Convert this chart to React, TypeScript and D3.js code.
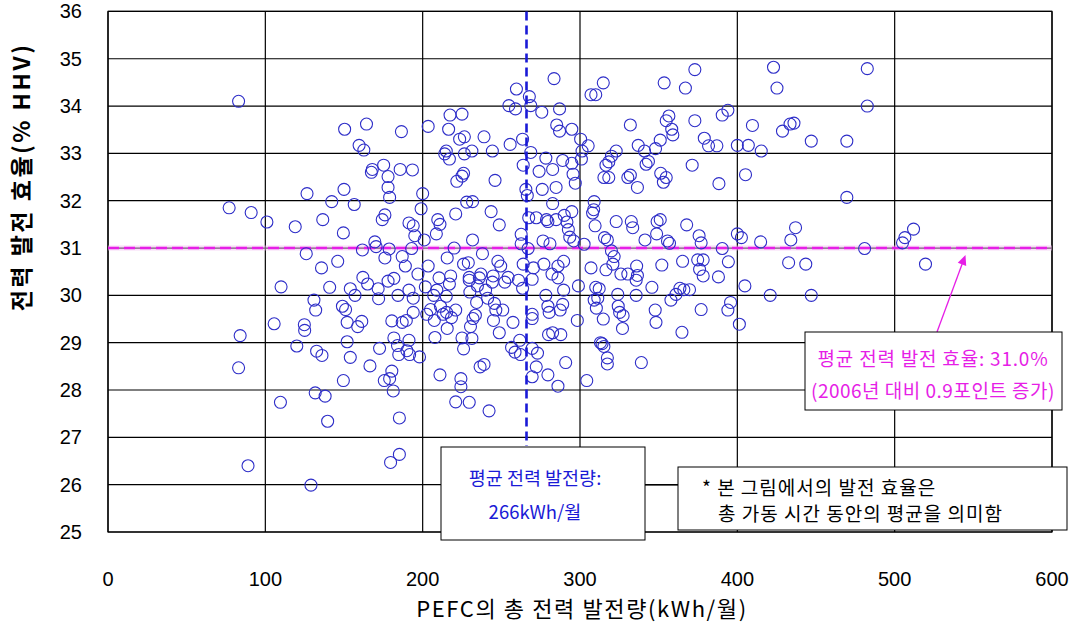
import React from "react";
import * as d3 from "d3";

// Data: [total PEFC output (kWh/month), electrical efficiency (% HHV)]
const pointsA: [number, number][] = [
  [83, 34.1], [77, 31.85], [91, 31.75], [84, 29.15], [83, 28.47], [89, 26.4],
  [101, 31.55], [110, 30.18], [105.6, 29.4], [109.6, 27.74], [119, 31.45], [126.5, 32.15],
  [126, 30.88], [124.8, 29.38], [125, 29.26], [120, 28.93], [130.9, 29.9], [132, 29.69],
  [132.6, 28.82], [136, 28.73], [131.7, 27.94], [138, 27.87], [139.6, 27.34], [129, 25.99],
  [135.7, 30.58], [136.5, 31.6], [142.2, 31.98], [140.9, 30.17], [146, 30.72], [150, 32.24],
  [149.6, 31.32], [150.4, 33.51], [149, 29.77], [151, 29.7], [152, 29.43], [152, 29.02],
  [154, 28.69], [149.6, 28.2], [156.5, 31.92], [154, 30.14], [157, 30.0], [159.6, 33.17],
  [162.6, 33.07], [164.3, 33.62], [161.7, 30.96], [162, 30.38], [165, 30.24], [168, 32.66],
  [167.4, 32.6], [169.6, 31.13], [170.4, 31.03], [171.7, 30.14], [172, 29.93], [161.3, 29.45],
  [158.7, 29.34], [166.5, 28.51], [172.6, 28.88], [174.3, 31.6], [176, 31.7], [175.2, 32.75],
  [178, 32.51], [178, 32.28], [179, 32.07], [178.7, 30.98], [176, 30.79], [178, 30.3],
  [181.7, 30.36], [184.3, 30.0], [180.4, 29.46], [181.7, 29.1], [184, 28.94], [184.8, 28.75],
  [180.4, 28.4], [179, 28.24], [175.6, 28.2], [181.3, 27.98], [185.2, 27.41], [179.6, 26.47],
  [185.2, 26.64], [186.5, 33.46], [185.7, 32.66], [187, 30.82], [189, 30.62], [187, 29.43],
  [189.6, 29.47], [191.3, 29.05], [190, 28.83], [191.7, 28.75], [193.5, 32.65], [191.3, 31.53],
  [194, 31.47], [195, 31.26], [193, 30.99], [191.3, 30.11], [194, 29.94], [194, 29.64],
  [197, 30.45], [198, 28.7],
];

const pointsB: [number, number][] = [
  [200, 32.15], [199, 31.83], [201, 31.17], [203.5, 33.57], [201.7, 30.18], [203.5, 30.62],
  [202.6, 29.6], [205, 29.7], [207, 30.0], [207.8, 29.11], [207.4, 29.47], [209.6, 31.6],
  [208.7, 31.3], [211, 31.5], [209, 30.11], [210.4, 30.37], [211, 28.32], [211.3, 29.77],
  [213, 29.6], [214, 32.99], [215, 33.05], [216.5, 33.51], [217.4, 33.81], [217, 32.88],
  [215.6, 30.79], [215, 29.98], [217, 30.24], [217.8, 30.41], [215.2, 29.64], [215.6, 29.3],
  [218.3, 29.53], [220, 31.0], [221, 31.72], [221.7, 32.41], [221, 29.69], [221, 27.75],
  [223.5, 33.3], [225, 33.83], [226.5, 33.35], [225, 32.52], [226, 32.58], [226, 30.66],
  [225, 29.1], [224.3, 28.24], [224.3, 28.07], [226, 28.87], [226.5, 32.99], [228, 31.97],
  [229, 30.69], [229.6, 30.38], [229.6, 30.32], [230, 30.07], [230.4, 29.34], [231.3, 29.09],
  [229.6, 27.74], [231.3, 33.05], [231.7, 31.98], [231.7, 31.17], [232, 29.51], [233.5, 29.58],
  [234.3, 29.85], [234.8, 30.2], [236, 30.37], [236.5, 28.49], [239, 28.54], [237, 30.45],
  [238, 30.88], [239, 33.35], [240, 30.11], [241.3, 29.94], [242.2, 27.56], [243.5, 31.77],
  [244.3, 33.05], [244.8, 30.41], [244.3, 30.28], [246, 32.43], [245.6, 29.83], [245, 29.47],
  [246.5, 29.69], [247.8, 30.72], [248.7, 31.49], [249.6, 30.62], [248.7, 29.21], [250.9, 29.69],
  [252.2, 30.28], [254.3, 30.38], [254.8, 34.01], [255.6, 33.19], [256.5, 28.9], [258.7, 28.8],
  [257.4, 29.43], [259, 33.94], [259.6, 34.36], [260.9, 30.32], [261.7, 29.05], [262.2, 28.75],
  [262.6, 31.09], [262.6, 31.29], [263.5, 33.3], [263.9, 32.75], [263.9, 30.66], [263.5, 30.15],
  [265.6, 32.24], [266.5, 32.11], [267, 30.99], [267.8, 34.2], [268.7, 34.01], [268.7, 33.02],
  [267.4, 31.64], [270.4, 30.58], [269.6, 30.34], [269.6, 29.51], [269.6, 29.6], [269.6, 28.88],
  [269.6, 28.28], [272.2, 31.64], [273, 28.78], [272.2, 28.49], [274, 32.62], [275.7, 33.87],
  [276, 32.24], [276.5, 31.15], [277, 30.66], [278.3, 30.0], [278.3, 32.9], [278.7, 31.6],
  [279.6, 31.56], [279.6, 29.77], [280, 29.17], [280.4, 29.64], [280.9, 31.09], [279.6, 28.32],
  [282.2, 30.45], [282.6, 32.66], [283.5, 34.58], [282.6, 31.94], [282.6, 29.21], [284.8, 32.28],
  [284.8, 31.6], [285.2, 33.6], [287, 33.94], [287, 33.47], [286, 30.62], [286, 30.37],
  [287.8, 29.17], [286, 28.08], [287.4, 29.69], [289, 29.81], [289.6, 30.11], [289.6, 30.72],
  [289, 32.85], [290, 31.69], [290.9, 28.58], [291.7, 31.55], [292.6, 31.39], [293.5, 31.23],
  [294.8, 33.51], [294.8, 32.79], [294.8, 31.77], [295.6, 32.56], [296, 31.15], [297, 32.37],
  [298.3, 29.47], [299, 30.2],
];

const pointsC: [number, number][] = [
  [300.4, 33.3], [301.3, 33.05], [300.9, 32.88], [302.6, 31.08], [304.3, 28.2], [305.2, 33.16],
  [307, 34.24], [310, 34.24], [309, 31.98], [308.7, 31.81], [308, 31.74], [307, 30.58],
  [309.6, 31.47], [310, 30.17], [309, 29.9], [310.4, 29.73], [311.3, 29.94], [312.2, 30.14],
  [313, 29.0], [314, 28.98], [315.2, 28.92], [315.6, 31.22], [317.4, 31.17], [314.8, 34.49],
  [316.5, 32.75], [315.2, 32.49], [316.5, 30.54], [314.8, 29.5], [318.3, 32.49], [318.3, 32.82],
  [317.4, 28.68], [317.4, 28.55], [320, 32.94], [320, 30.94], [320.9, 30.66], [321.7, 30.82],
  [323, 33.05], [323, 31.56], [324, 30.02], [324.3, 29.77], [325.2, 29.64], [327, 29.3],
  [327.4, 29.57], [326, 30.45], [330.4, 32.49], [330.4, 30.45], [332, 33.6], [332.6, 31.56],
  [333.5, 31.43], [332, 32.54], [335.7, 30.32], [336.5, 30.42], [336.5, 32.28], [336, 30.62],
  [337, 33.17], [335.7, 30.0], [339, 28.58], [341.3, 31.17], [341, 33.05], [342, 32.77],
  [343.5, 32.83], [345.7, 30.17], [347.8, 29.69], [348.3, 29.43], [349, 31.56], [348.7, 31.3],
  [348, 33.1], [351, 33.28], [351, 31.6], [352, 30.64], [351.3, 32.58], [353, 32.39],
  [354.8, 32.49], [353.5, 34.49], [354.8, 33.69], [356.5, 33.79], [358.3, 33.51], [359, 33.39],
  [356.9, 31.1], [355.6, 31.15], [357.8, 29.9], [361, 30.02], [363.5, 30.15], [364.8, 29.22],
  [365.2, 30.72], [366, 30.12], [367, 34.38], [367.8, 31.49], [369.6, 30.12], [371.3, 32.75],
  [373, 34.77], [373, 33.69], [374.8, 30.75], [375.7, 31.26], [377, 31.11], [376, 30.55],
  [377, 29.7], [378.3, 30.41], [378.3, 30.75], [379, 33.32], [381.7, 33.16], [387, 33.16],
  [388, 30.39], [388.3, 32.36], [390.4, 30.99], [390.4, 33.81], [394, 33.91], [394, 29.69],
  [394.3, 30.71], [395.7, 29.85], [400, 33.17], [400, 31.3], [401.3, 29.39],
];

const pointsD: [number, number][] = [
  [402.6, 31.22], [404.8, 30.2], [405.2, 32.55], [407, 33.17], [409.6, 33.59], [414.8, 31.13],
  [415.2, 33.05], [420.9, 30.0], [423, 34.82], [425.2, 34.38], [428.7, 33.47], [433.5, 33.62],
  [434, 31.17], [437, 31.43], [432.6, 30.69], [436, 33.64], [443.5, 30.66], [447, 33.26],
  [447, 30.0], [469.6, 33.26], [469.6, 32.07], [482.6, 34.79], [482.6, 34.0], [480.9, 30.99],
  [505, 31.11], [506.5, 31.22], [512, 31.4], [519.6, 30.66],
];

const xTicks = [0, 100, 200, 300, 400, 500, 600];
const yTicks = [25, 26, 27, 28, 29, 30, 31, 32, 33, 34, 35, 36];
const meanOutput = 266;
const meanEfficiency = 31.0;

const xTitle = "PEFC의 총 전력 발전량(kWh/월)";
const yTitle = "전력 발전 효율(% HHV)";
const outputLabel = ["평균 전력 발전량:", "266kWh/월"];
const effLabel = ["평균 전력 발전 효율: 31.0%", "(2006년 대비 0.9포인트 증가)"];
const noteLabel = ["* 본 그림에서의 발전 효율은", "총 가동 시간 동안의 평균을 의미함"];

const W = 1071;
const H = 632;
const L = 108, R = 1052, T = 11.4, B = 532;

export default function App() {
  const x = d3.scaleLinear().domain([0, 600]).range([L, R]);
  const y = d3.scaleLinear().domain([25, 36]).range([B, T]);
  const all = [...pointsA, ...pointsB, ...pointsC, ...pointsD];
  const kr = "'Noto Sans CJK KR', 'Noto Sans', sans-serif";
  const num = "'Liberation Sans', Arial, sans-serif";
  const magenta = "#e61ee6";
  const blue = "#1a1ad6";

  // arrow from efficiency box to mean line
  const ax1 = 937, ay1 = 332;
  const ax2 = x(545), ay2 = y(meanEfficiency) + 7;
  const ang = Math.atan2(ay2 - ay1, ax2 - ax1);
  const ah = 10, aw = 4.5;
  const head = [
    [ax2, ay2],
    [ax2 - ah * Math.cos(ang) + aw * Math.sin(ang), ay2 - ah * Math.sin(ang) - aw * Math.cos(ang)],
    [ax2 - ah * Math.cos(ang) - aw * Math.sin(ang), ay2 - ah * Math.sin(ang) + aw * Math.cos(ang)],
  ];

  return (
    <svg width={W} height={H} style={{ position: "absolute", left: 0, top: 0, background: "#fff" }}>
      <rect x={0} y={0} width={W} height={H} fill="#fff" />
      {/* grid */}
      {yTicks.map((t) => (
        <line key={"gy" + t} x1={L} x2={R} y1={y(t)} y2={y(t)} stroke="#000" strokeWidth={1.2} />
      ))}
      {xTicks.map((t) => (
        <line key={"gx" + t} x1={x(t)} x2={x(t)} y1={T} y2={B} stroke="#000" strokeWidth={1.2} />
      ))}
      <rect x={L} y={T} width={R - L} height={B - T} fill="none" stroke="#000" strokeWidth={1.2} />

      {/* mean efficiency line */}
      <line x1={L} x2={R} y1={y(meanEfficiency)} y2={y(meanEfficiency)} stroke="#f4b8f4" strokeWidth={5} opacity={0.5} />
      <line x1={L} x2={R} y1={y(meanEfficiency)} y2={y(meanEfficiency)} stroke={magenta} strokeWidth={2.6} strokeDasharray="11,5" />

      {/* points */}
      {all.map((d, i) => (
        <circle key={i} cx={x(d[0])} cy={y(d[1])} r={6} fill="none" stroke="#2d2dc8" strokeWidth={1.1} />
      ))}

      {/* mean output line */}
      <line x1={x(meanOutput)} x2={x(meanOutput)} y1={T} y2={446} stroke={blue} strokeWidth={2.6} strokeDasharray="9,5" />

      {/* tick labels */}
      {yTicks.map((t) => (
        <text key={"ty" + t} x={82} y={y(t) + 7} textAnchor="end" fontFamily={num} fontSize={20} fill="#000">
          {t}
        </text>
      ))}
      {xTicks.map((t) => (
        <text key={"tx" + t} x={x(t)} y={586} textAnchor="middle" fontFamily={num} fontSize={20} fill="#000">
          {t}
        </text>
      ))}

      {/* axis titles */}
      <text x={x(300) + 2} y={617} textAnchor="middle" fontFamily={kr} fontSize={22} letterSpacing={1.6} fill="#000">
        {xTitle}
      </text>
      <text transform={`translate(30,177) rotate(-90)`} textAnchor="middle" fontFamily={kr} fontSize={23} fontWeight="bold" letterSpacing={2.5} fill="#000">
        {yTitle}
      </text>

      {/* arrow */}
      <line x1={ax1} y1={ay1} x2={ax2 - 8 * Math.cos(ang)} y2={ay2 - 8 * Math.sin(ang)} stroke={magenta} strokeWidth={1.3} />
      <polygon points={head.map((p) => p.join(",")).join(" ")} fill={magenta} />

      {/* connector between boxes */}
      <line x1={645} x2={678} y1={485} y2={485} stroke="#000" strokeWidth={1} />

      {/* mean output box */}
      <rect x={441} y={447} width={204} height={93} fill="#fff" stroke="#000" strokeWidth={1} />
      <text x={535} y={485} textAnchor="middle" fontFamily={kr} fontSize={18.5} fill={blue}>
        {outputLabel[0]}
      </text>
      <text x={535} y={519} textAnchor="middle" fontFamily={kr} fontSize={18.5} fill={blue}>
        {outputLabel[1]}
      </text>

      {/* note box */}
      <rect x={678} y={467} width={389} height={63} fill="#fff" stroke="#000" strokeWidth={1} />
      <text x={702} y={495} fontFamily={kr} fontSize={19} letterSpacing={1} fill="#000">
        {noteLabel[0]}
      </text>
      <text x={718} y={521} fontFamily={kr} fontSize={19} letterSpacing={1} fill="#000">
        {noteLabel[1]}
      </text>

      {/* efficiency box */}
      <rect x={805} y={332} width={257} height={78} fill="#fff" stroke="#000" strokeWidth={1} />
      <text x={933} y={366} textAnchor="middle" fontFamily={kr} fontSize={19} letterSpacing={0.8} fill={magenta}>
        {effLabel[0]}
      </text>
      <text x={933} y={398} textAnchor="middle" fontFamily={kr} fontSize={19} letterSpacing={0.5} fill={magenta}>
        {effLabel[1]}
      </text>
    </svg>
  );
}
